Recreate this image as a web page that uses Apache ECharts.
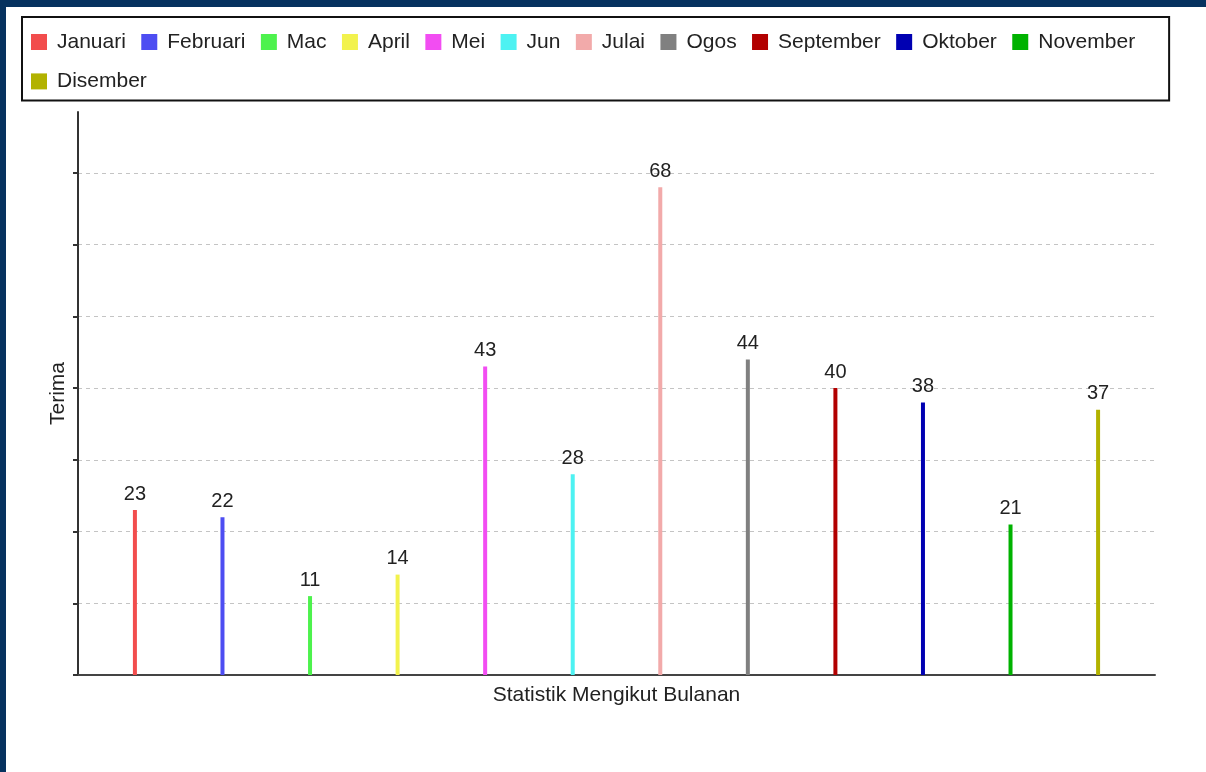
<!DOCTYPE html>
<html>
<head>
<meta charset="utf-8">
<title>Statistik Mengikut Bulanan</title>
<script src="https://cdn.jsdelivr.net/npm/echarts@6/dist/echarts.min.js"></script>
<style>
  html, body { margin: 0; padding: 0; background: #fff; }
  #wrap { position: relative; width: 1206px; height: 772px; overflow: hidden; }
  #chart { position: absolute; left: 0; top: 0; width: 1206px; height: 772px; }
  .band { position: absolute; background: #06325f; pointer-events: none; }
</style>
</head>
<body>
<div id="wrap">
  <div id="chart"></div>
  <div class="band" style="left:0;top:0;width:1206px;height:7px;"></div>
  <div class="band" style="left:0;top:0;width:6px;height:772px;"></div>
</div>
<script>
  var months = ['Januari', 'Februari', 'Mac', 'April', 'Mei', 'Jun', 'Julai', 'Ogos', 'September', 'Oktober', 'November', 'Disember'];
  var values = [23, 22, 11, 14, 43, 28, 68, 44, 40, 38, 21, 37];
  var yTicks = [0, 10, 20, 30, 40, 50, 60, 70];

  var palette = ['#f24d4d', '#4d4df2', '#4df24d', '#f2f24d', '#f24df2', '#4df2f2',
                 '#f2aaaa', '#808080', '#b20000', '#0000b2', '#00b200', '#b2b200'];
  var font = "'Liberation Sans', Arial, sans-serif";

  var chart = echarts.init(document.getElementById('chart'));

  // one series per month so the legend gets one entry each
  var series = months.map(function (m, i) {
    return {
      name: m,
      type: 'bar',
      barWidth: 4,
      barGap: '-100%',
      data: [[i + 1, values[i]]],
      label: {
        show: true,
        position: 'top',
        distance: 6,
        fontSize: 20,
        fontFamily: font,
        color: '#222'
      }
    };
  });

  var option = {
    animation: false,
    color: palette,
    textStyle: { fontFamily: font },
    legend: {
      data: months,
      icon: 'rect',
      left: 22,
      top: 17,
      width: 1120,
      padding: [13, 34, 7, 9],
      itemWidth: 16,
      itemHeight: 16,
      itemGap: 15.4,
      borderColor: '#111',
      borderWidth: 2,
      textStyle: {
        fontSize: 21,
        fontFamily: font,
        color: '#222',
        lineHeight: 24,
        padding: [0, 0, 0, 5]
      }
    },
    grid: {
      left: 78,
      right: 51,
      top: 112,
      bottom: 97
    },
    xAxis: {
      type: 'value',
      min: 0.35,
      max: 12.65,
      name: 'Statistik Mengikut Bulanan',
      nameLocation: 'middle',
      nameGap: 10,
      nameTextStyle: { fontSize: 21, fontFamily: font, color: '#222', verticalAlign: 'top' },
      axisLine: { show: true, lineStyle: { color: '#444', width: 2 } },
      axisTick: { show: false },
      axisLabel: { show: false },
      splitLine: { show: false }
    },
    yAxis: {
      type: 'value',
      min: 0,
      max: 78.5,
      interval: 10,
      name: 'Terima',
      nameLocation: 'middle',
      nameGap: 9,
      nameTextStyle: { fontSize: 21, fontFamily: font, color: '#222' },
      axisLine: { show: true, lineStyle: { color: '#333', width: 2 } },
      axisTick: { show: true, length: 5, customValues: yTicks, lineStyle: { color: '#333', width: 2 } },
      axisLabel: { show: false },
      splitLine: {
        show: true,
        lineStyle: { color: '#c4c4c4', type: [4, 4], width: 1 }
      }
    },
    series: series
  };

  chart.setOption(option);
</script>
</body>
</html>
